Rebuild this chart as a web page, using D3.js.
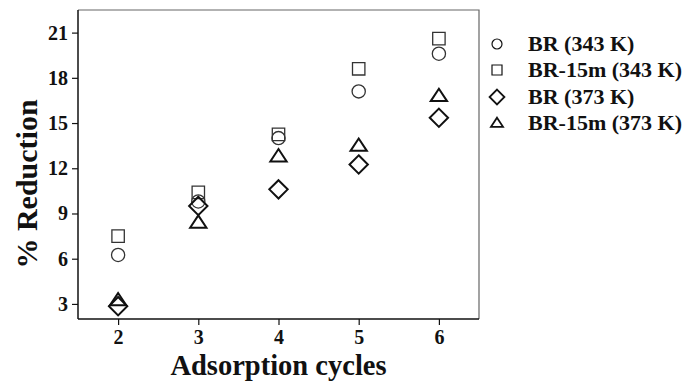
<!DOCTYPE html>
<html>
<head>
<meta charset="utf-8">
<script src="https://cdn.jsdelivr.net/npm/d3@7"></script>
<style>
  body { margin: 0; background: #fff; }
  svg text { font-family: "Liberation Serif", "Times New Roman", serif; font-weight: bold; fill: #111; }
</style>
</head>
<body>
<svg id="chart" width="689" height="381"></svg>
<script>
// ── Data ──────────────────────────────────────────────────────────────────
const cycles = [2, 3, 4, 5, 6];
const br343    = [6.25, 9.8, 14.0, 17.1, 19.6];
const br15m343 = [7.5, 10.4, 14.25, 18.6, 20.6];
const br373    = [2.85, 9.5, 10.6, 12.25, 15.35];
const br15m373 = [3.25, 8.4, 12.8, 13.5, 16.8];
const yTicks = [3, 6, 9, 12, 15, 18, 21];

const series = [
  { name: 'BR (343 K)',      shape: 'circle',   values: br343 },
  { name: 'BR-15m (343 K)',  shape: 'square',   values: br15m343 },
  { name: 'BR (373 K)',      shape: 'diamond',  values: br373 },
  { name: 'BR-15m (373 K)',  shape: 'triangle', values: br15m373 },
];

// ── Layout ────────────────────────────────────────────────────────────────
const M = { left: 78, top: 10, right: 479, bottom: 319 };
const svg = d3.select('#chart');

const x = d3.scaleLinear().domain([1.5, 6.5]).range([M.left, M.right]);
const y = d3.scaleLinear().domain([2.0, 22.5]).range([M.bottom, M.top]);

// frame (top/right lighter)
svg.append('path')
  .attr('d', `M${M.left},${M.top}H${M.right}V${M.bottom}`)
  .attr('fill', 'none').attr('stroke', '#666').attr('stroke-width', 1.2);

// axes
const xAxis = svg.append('g')
  .attr('transform', `translate(0,${M.bottom})`)
  .call(d3.axisBottom(x).tickValues(cycles).tickSize(6).tickPadding(5).tickFormat(d3.format('d')));
const yAxis = svg.append('g')
  .attr('transform', `translate(${M.left},0)`)
  .call(d3.axisLeft(y).tickValues(yTicks).tickSize(6).tickPadding(4).tickFormat(d3.format('d')));

[xAxis, yAxis].forEach(a => {
  a.attr('font-family', null);
  a.select('.domain').attr('stroke', '#111').attr('stroke-width', 1.5);
  a.selectAll('.tick line').attr('stroke', '#111').attr('stroke-width', 1.2);
  a.selectAll('.tick text').style('font-size', '20px').attr('fill', '#111');
});
yAxis.select('.domain').attr('d', `M0,${M.top}V${M.bottom}`);
xAxis.select('.domain').attr('d', `M${M.left},0H${M.right}`);

// axis titles
svg.append('text')
  .attr('x', (M.left + M.right) / 2).attr('y', 375)
  .attr('text-anchor', 'middle').style('font-size', '28.5px')
  .text('Adsorption cycles');
svg.append('text')
  .attr('transform', `translate(37,184) rotate(-90)`)
  .attr('text-anchor', 'middle').style('font-size', '30px')
  .text('% Reduction');

// ── Markers ───────────────────────────────────────────────────────────────
function markerPath(shape, s) {
  if (shape === 'circle') return d3.symbol(d3.symbolCircle, Math.PI * s * s)();
  if (shape === 'square') return `M${-s},${-s}H${s}V${s}H${-s}Z`;
  if (shape === 'diamond') return `M0,${-s * 1.35}L${s * 1.35},0L0,${s * 1.35}L${-s * 1.35},0Z`;
  // triangle
  const h = s * 1.7;
  return `M0,${-h * 0.62}L${s * 1.2},${h * 0.45}L${-s * 1.2},${h * 0.45}Z`;
}

const sizes = { circle: 6.6, square: 6.2, diamond: 6.8, triangle: 6.8 };
const strokes = { circle: 1.3, square: 1.3, diamond: 2.0, triangle: 2.0 };

series.forEach(s => {
  svg.append('g').selectAll('path')
    .data(s.values.map((v, i) => ({ c: cycles[i], v })))
    .join('path')
    .attr('transform', d => `translate(${x(d.c)},${y(d.v)})`)
    .attr('d', markerPath(s.shape, sizes[s.shape]))
    .attr('fill', 'none')
    .attr('stroke', s.shape === 'circle' || s.shape === 'square' ? '#333' : '#111')
    .attr('stroke-width', strokes[s.shape]);
});

// ── Legend ────────────────────────────────────────────────────────────────
const legendY = [44, 70, 97, 123];
const legend = svg.append('g');
series.forEach((s, i) => {
  const row = legend.append('g').attr('transform', `translate(497,${legendY[i]})`);
  row.append('path')
    .attr('d', markerPath(s.shape, s.shape === 'diamond' ? 5.5 : 5))
    .attr('fill', 'none').attr('stroke', '#111')
    .attr('stroke-width', s.shape === 'diamond' || s.shape === 'triangle' ? 1.8 : 1.2);
  row.append('text')
    .attr('x', 31).attr('y', 7)
    .style('font-size', '22px')
    .text(s.name);
});
</script>
</body>
</html>
